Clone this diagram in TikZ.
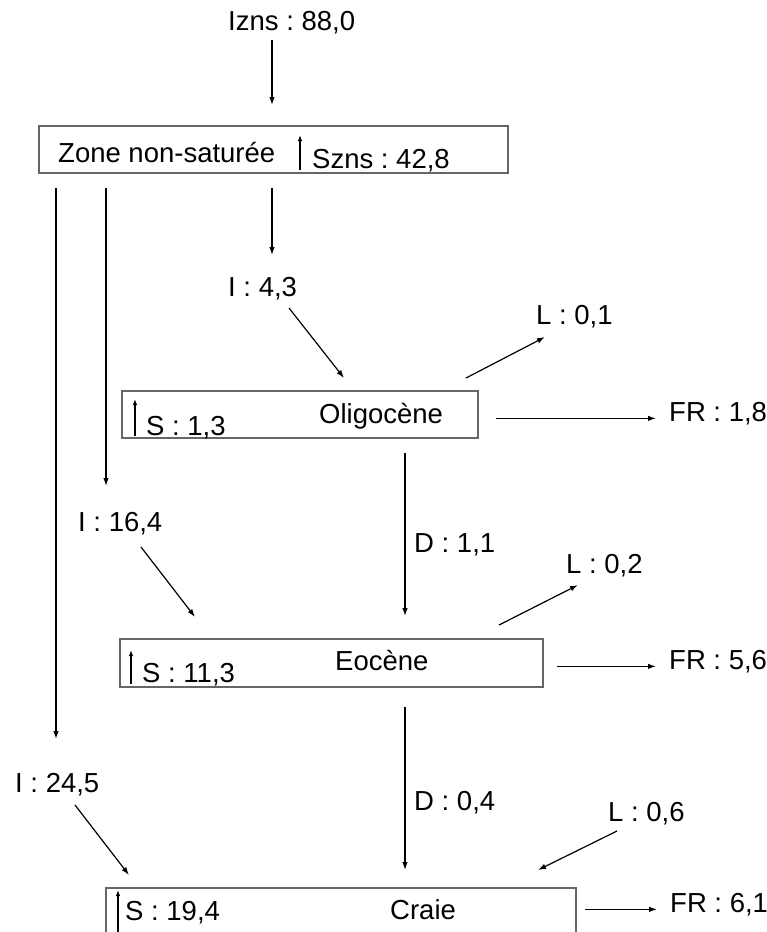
\documentclass[tikz,border=0pt]{standalone}
\usepackage{fontspec}
\setmainfont{Liberation Sans}
\usetikzlibrary{arrows.meta}
\definecolor{boxgray}{gray}{0.4}
\frenchspacing

\begin{document}
\begin{tikzpicture}[x=1pt, y=-1pt,
  zone/.style={draw=boxgray, line width=1.4pt, inner sep=0pt, outer sep=0pt},
  lb/.style={anchor=base west, inner sep=0pt, font=\fontsize{27.5}{30}\selectfont},
  arr/.style={-{Latex[length=8pt,width=5.5pt]}, line width=1.2pt},
  uparr/.style={-{Latex[length=6pt,width=4.5pt]}, line width=1.2pt}]
\useasboundingbox (0,0) rectangle (767,932);

% boxes
\node[zone, minimum width=469pt, minimum height=47pt] (zns) at (273.5,149.5) {};
\node[zone, minimum width=356pt, minimum height=47pt] (oli) at (300,414.5) {};
\node[zone, minimum width=423pt, minimum height=48pt] (eoc) at (331.5,663) {};
\node[zone, minimum width=470pt, minimum height=48pt] (cra) at (341,912) {};

% texts
\node[lb] (izns)  at (228,30)  {Izns : 88,0};
\node[lb] (tzns)  at (58,162)  {Zone non-saturée};
\node[lb] (szns)  at (312,168) {Szns : 42,8};
\node[lb] (i1)    at (228,296) {I : 4,3};
\node[lb] (l1)    at (536,324) {L : 0,1};
\node[lb] (toli)  at (319,423) {Oligocène};
\node[lb] (s1)    at (146,435) {S : 1,3};
\node[lb] (fr1)   at (669,421) {FR : 1,8};
\node[lb] (i2)    at (78,531)  {I : 16,4};
\node[lb] (d1)    at (414,552) {D : 1,1};
\node[lb] (l2)    at (566,573) {L : 0,2};
\node[lb] (teoc)  at (335,670) {Eocène};
\node[lb] (s2)    at (142,682) {S : 11,3};
\node[lb] (fr2)   at (669,669) {FR : 5,6};
\node[lb] (i3)    at (15,792)  {I : 24,5};
\node[lb] (d2)    at (414,810) {D : 0,4};
\node[lb] (l3)    at (608,821) {L : 0,6};
\node[lb] (tcra)  at (390,919) {Craie};
\node[lb] (s3)    at (125,920) {S : 19,4};
\node[lb] (fr3)   at (670,912) {FR : 6,1};

% columns and free ends
\coordinate (zcol) at (272,0);
\coordinate (dcol) at (405,0);
\coordinate (col2) at (106,0);
\coordinate (col3) at (56,0);
\coordinate (i1-out)  at (289,308);
\coordinate (oli-in)  at (344,378);
\coordinate (oli-out) at (466,378);
\coordinate (l1-in)   at (545,337);
\coordinate (i2-out)  at (141,547);
\coordinate (eoc-in)  at (195,617);
\coordinate (eoc-out) at (499,625);
\coordinate (l2-in)   at (578,585);
\coordinate (i3-out)  at (75,805);
\coordinate (cra-in)  at (129,875);
\coordinate (l3-out)  at (617,831);
\coordinate (cra-in2) at (538,870);
\coordinate (up0) at (300,135);
\coordinate (up1) at (135,399);
\coordinate (up2) at (131,650);
\coordinate (up3) at (118,890);

% flows
\draw[arr, shorten <=10pt, shorten >=21pt] (izns.base -| zcol) -- (zns.north -| zcol);
\draw[arr, shorten <=15pt, shorten >=41pt] (zns.south -| zcol) -- (i1.base -| zcol);
\draw[arr, shorten <=15pt, shorten >=45pt] (zns.south -| col2) -- (i2.base -| col2);
\draw[arr, shorten <=15pt, shorten >=53pt] (zns.south -| col3) -- (i3.base -| col3);
\draw[arr] (i1-out) -- (oli-in);
\draw[arr] (oli-out) -- (l1-in);
\draw[arr, shorten <=18pt, shorten >=13pt] (oli.east |- fr1.mid west) -- (fr1.mid west);
\draw[arr, shorten <=15pt, shorten >=23pt] (oli.south -| dcol) -- (eoc.north -| dcol);
\draw[arr] (i2-out) -- (eoc-in);
\draw[arr] (eoc-out) -- (l2-in);
\draw[arr, shorten <=14pt, shorten >=13pt] (eoc.east |- fr2.mid west) -- (fr2.mid west);
\draw[arr, shorten <=20pt, shorten >=18pt] (eoc.south -| dcol) -- (cra.north -| dcol);
\draw[arr] (i3-out) -- (cra-in);
\draw[arr] (l3-out) -- (cra-in2);
\draw[arr, shorten <=9pt, shorten >=13pt] (cra.east |- fr3.mid west) -- (fr3.mid west);

% storage
\draw[uparr, shorten <=3pt] (zns.south -| up0) -- (up0);
\draw[uparr, shorten <=2pt] (oli.south -| up1) -- (up1);
\draw[uparr, shorten <=3pt] (eoc.south -| up2) -- (up2);
\draw[uparr, shorten <=2pt] (cra.south -| up3) -- (up3);
\end{tikzpicture}
\end{document}
